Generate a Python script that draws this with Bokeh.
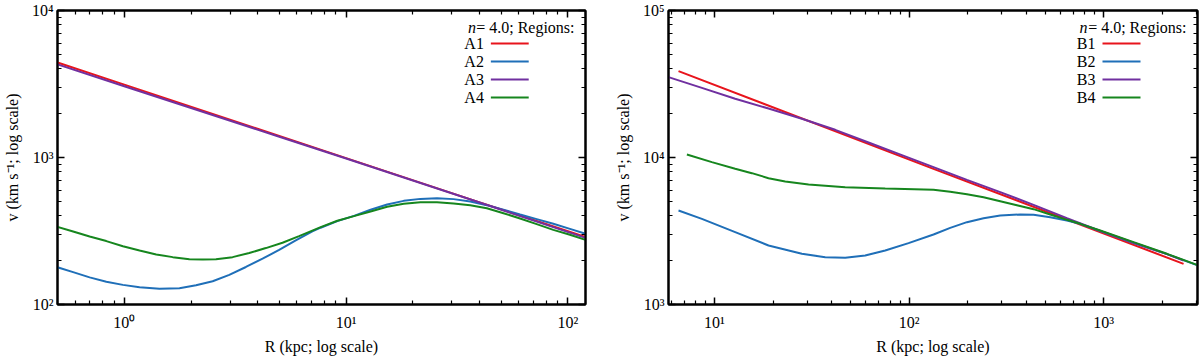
import math
from bokeh.plotting import figure
from bokeh.models import LogAxis, FixedTicker, CustomJSTickFormatter, Range1d
from bokeh.layouts import row
from bokeh.embed import file_html
from bokeh.resources import INLINE
from bokeh.core.properties import value

# ---------------- data ----------------
# Left panel: regions A1..A4  (R in kpc, v in km/s)
R_A1 = [0.5, 1.0, 10, 40, 120]
V_A1 = [4430, 3130, 990, 495, 288]

R_A2 = [0.495, 0.588, 0.698, 0.830, 0.986, 1.172, 1.441, 1.773, 2.106, 2.503, 2.974,
        3.535, 4.201, 4.991, 5.930, 7.046, 7.68, 9.13, 10.85, 12.89, 15.31, 18.19,
        21.62, 25.69, 30.52, 36.27, 43.10, 51.21, 60.85, 72.31, 85.92, 102.1, 120]
V_A2 = [180, 166, 153, 143, 136, 131, 128, 129, 135, 144, 159,
        180, 205, 235, 273, 314, 333, 369, 401, 441, 479, 507,
        523, 529, 521, 502, 474, 441, 409, 381, 354, 327, 303]

R_A3 = [0.5, 1.0, 2.0, 5.0, 10, 40, 120]
V_A3 = [4300, 3050, 2170, 1385, 985, 494, 284]

R_A4 = [0.495, 0.588, 0.698, 0.830, 0.986, 1.172, 1.393, 1.654, 1.966, 2.257, 2.591,
        3.078, 3.659, 4.348, 5.166, 6.138, 7.68, 9.13, 10.85, 12.89, 15.31, 18.19,
        21.62, 25.69, 30.52, 36.27, 43.10, 51.21, 60.85, 72.31, 85.92, 102.1, 120]
V_A4 = [339, 314, 290, 270, 249, 233, 219, 210, 203, 202, 203,
        210, 224, 242, 263, 292, 336, 371, 399, 429, 462, 484,
        497, 497, 487, 474, 452, 418, 385, 352, 322, 298, 275]

# Right panel: regions B1..B4
R_B1 = [6.53, 133.6, 2578]
V_B1 = [38680, 8374, 1890]

R_B2 = [6.53, 8.61, 12.77, 18.95, 28.12, 37.07, 46.97, 59.52, 75.42, 99.41, 133.6,
        162.8, 198.4, 241.6, 294.3, 372.8, 436.6, 531.8, 647.8, 758.6, 961.3,
        1426.7, 2117, 3080]
V_B2 = [4360, 3826, 3105, 2520, 2212, 2099, 2078, 2154, 2330, 2614, 2994,
        3323, 3632, 3867, 4032, 4096, 4074, 3927, 3727, 3538, 3160,
        2620, 2200, 1835]

R_B3 = [5.80, 8.61, 12.77, 18.95, 28.12, 41.73, 61.91, 91.87, 133.6, 198.4, 294.3,
        436.6, 647.8, 961.3, 1426.7, 2117, 2578]
V_B3 = [35200, 29780, 25070, 21540, 18330, 15430, 12650, 10370, 8596, 7047, 5810,
        4764, 3867, 3170, 2630, 2200, 1990]

R_B4 = [7.21, 9.69, 12.77, 15.56, 18.95, 23.09, 30.43, 46.97, 75.42, 133.6, 162.8,
        198.4, 241.6, 294.3, 358.4, 436.6, 531.8, 647.8, 758.6, 961.3, 1426.7, 2117, 3080]
V_B4 = [10480, 9296, 8374, 7824, 7234, 6865, 6550, 6284, 6154, 6026, 5840,
        5631, 5373, 5046, 4740, 4452, 4096, 3767, 3538, 3187, 2655, 2212, 1842]

LABELS_A = ["A1", "A2", "A3", "A4"]
LABELS_B = ["B1", "B2", "B3", "B4"]
N_INDEX = "4.0"
X_TITLE = "R (kpc; log scale)"
Y_TITLE = "v (km s\u207b\u00b9; log scale)"

X_RANGE_A = (0.5, 120)
Y_RANGE_A = (1e2, 1e4)
X_RANGE_B = (5.8, 3040)
Y_RANGE_B = (1e3, 1e5)

COLORS = ["#e8141c", "#1f6fb8", "#7030a0", "#16861e"]
FONT = "Liberation Serif"
FS = "16px"

SUP = CustomJSTickFormatter(code="""
const s = {"0":"\u2070","1":"\u00b9","2":"\u00b2","3":"\u00b3","4":"\u2074","5":"\u2075","6":"\u2076","7":"\u2077","8":"\u2078","9":"\u2079","-":"\u207b"};
const e = Math.round(Math.log10(tick));
return "10" + String(e).split("").map(c => s[c]).join("");
""")
BLANK = CustomJSTickFormatter(code="return '';")


def log_ticker(e0, e1):
    majors = [10.0 ** e for e in range(e0, e1 + 1)]
    minors = [m * 10.0 ** e for e in range(e0 - 1, e1 + 1) for m in range(2, 10)]
    return FixedTicker(ticks=majors, minor_ticks=minors)


def style_axis(ax, ticker, labelled):
    ax.ticker = ticker
    ax.axis_line_width = 2
    ax.axis_line_color = "black"
    ax.major_tick_in = 7
    ax.major_tick_out = 0
    ax.minor_tick_in = 4
    ax.minor_tick_out = 0
    ax.major_tick_line_width = 1.5
    ax.minor_tick_line_width = 1.2
    ax.major_tick_line_color = "black"
    ax.minor_tick_line_color = "black"
    if labelled:
        ax.formatter = SUP
        ax.major_label_text_font = FONT
        ax.major_label_text_font_size = FS
        ax.major_label_text_color = "black"
        ax.axis_label_text_font = FONT
        ax.axis_label_text_font_size = FS
        ax.axis_label_text_font_style = "normal"
        ax.axis_label_text_color = "black"
    else:
        ax.formatter = BLANK
        ax.major_label_text_font_size = "0px"
        ax.major_label_standoff = 0


def make_panel(xr, yr, xe, ye, series, labels, width, mbl, mbr):
    H = 358
    MBT, MBB = 10, 54
    p = figure(width=width, height=H, x_axis_type="log", y_axis_type="log",
               x_range=Range1d(*xr), y_range=Range1d(*yr),
               min_border_left=mbl, min_border_right=mbr,
               min_border_top=MBT, min_border_bottom=MBB,
               output_backend="svg", toolbar_location=None)
    p.xgrid.visible = False
    p.ygrid.visible = False
    p.outline_line_color = "black"
    p.outline_line_width = 2
    p.background_fill_color = "white"
    p.border_fill_color = "white"

    top = LogAxis()
    right = LogAxis()
    p.add_layout(top, "above")
    p.add_layout(right, "right")

    style_axis(p.below[0], log_ticker(*xe), True)
    style_axis(p.left[0], log_ticker(*ye), True)
    style_axis(top, log_ticker(*xe), False)
    style_axis(right, log_ticker(*ye), False)
    p.below[0].major_label_standoff = 9
    p.below[0].axis_label = X_TITLE
    p.below[0].axis_label_standoff = 4
    p.left[0].major_label_standoff = 4
    p.left[0].axis_label = Y_TITLE
    p.left[0].axis_label_standoff = 8

    for (rx, vy), c in zip(series, COLORS):
        p.line(rx, vy, line_color=c, line_width=2)

    # pixel offsets from the frame's top-right corner -> data coordinates (legend placement)
    FW = width - mbl - mbr
    FH = H - MBT - MBB
    lx0, lx1 = math.log10(xr[0]), math.log10(xr[1])
    ly0, ly1 = math.log10(yr[0]), math.log10(yr[1])

    def xr_(d):
        return 10 ** (lx1 - d / FW * (lx1 - lx0))

    def yt(d):
        return 10 ** (ly1 - d / FH * (ly1 - ly0))

    tf = value(FONT)
    p.text(x=[xr_(11)], y=[yt(17)], text=["= " + N_INDEX + "; Regions:"],
           text_font=tf, text_font_size=value(FS), text_align="right",
           text_baseline="middle", text_color="black")
    p.text(x=[xr_(110)], y=[yt(17)], text=["n"], text_font=tf,
           text_font_size=value(FS), text_font_style="italic", text_align="right",
           text_baseline="middle", text_color="black")
    rows = [33, 51, 69, 87]
    p.text(x=[xr_(102)] * 4, y=[yt(r) for r in rows], text=labels, text_font=tf,
           text_font_size=value(FS), text_align="right", text_baseline="middle",
           text_color="black")
    p.segment(x0=[xr_(95)] * 4, x1=[xr_(57)] * 4, y0=[yt(r) for r in rows],
              y1=[yt(r) for r in rows], line_color=COLORS, line_width=2)
    return p


pA = make_panel(X_RANGE_A, Y_RANGE_A, (0, 2), (2, 4),
                [(R_A1, V_A1), (R_A2, V_A2), (R_A3, V_A3), (R_A4, V_A4)],
                LABELS_A, 600, 55, 15)
pB = make_panel(X_RANGE_B, Y_RANGE_B, (1, 3), (3, 5),
                [(R_B1, V_B1), (R_B2, V_B2), (R_B3, V_B3), (R_B4, V_B4)],
                LABELS_B, 600, 68, 3)

layout = row(pA, pB)
open("out.html", "w").write(file_html(layout, INLINE))
